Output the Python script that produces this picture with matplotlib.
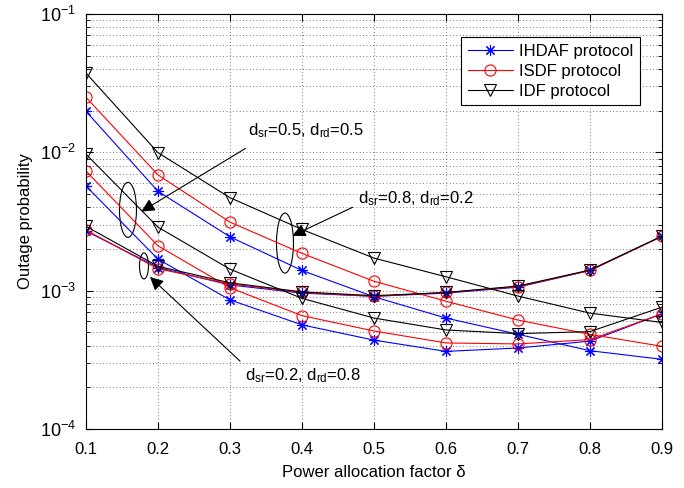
import numpy as np
import matplotlib
matplotlib.use("Agg")
import matplotlib.pyplot as plt
from matplotlib.patches import Ellipse

plt.rcParams['font.family'] = ['Liberation Sans', 'DejaVu Sans']
plt.rcParams['mathtext.fontset'] = 'custom'
plt.rcParams['mathtext.rm'] = 'Liberation Sans'
plt.rcParams['mathtext.it'] = 'Liberation Sans'

delta = [0.1, 0.2, 0.3, 0.4, 0.5, 0.6, 0.7, 0.8, 0.9]

# d_sr=0.8, d_rd=0.2
ihdaf_a = [0.0198, 0.00523, 0.00245, 0.00140, 0.000903, 0.000634, 0.000484, 0.000368, 0.000319]
isdf_a = [0.0250, 0.00687, 0.00313, 0.00186, 0.00117, 0.000839, 0.000613, 0.000483, 0.000396]
idf_a = [0.0374, 0.00995, 0.00470, 0.00277, 0.00172, 0.00126, 0.000914, 0.000688, 0.000589]

# d_sr=0.5, d_rd=0.5
ihdaf_b = [0.00571, 0.00169, 0.000858, 0.000566, 0.000439, 0.000364, 0.000385, 0.000432, 0.00068]
isdf_b = [0.00733, 0.00211, 0.00105, 0.00066, 0.000511, 0.000419, 0.000412, 0.000443, 0.00068]
idf_b = [0.0097, 0.00288, 0.00143, 0.00088, 0.000634, 0.00052, 0.000489, 0.000506, 0.00076]

# d_sr=0.2, d_rd=0.8
ihdaf_c = [0.00270, 0.00147, 0.00110, 0.00096, 0.00091, 0.00096, 0.00106, 0.00140, 0.00247]
isdf_c = [0.00274, 0.00144, 0.00112, 0.00097, 0.00091, 0.00097, 0.00107, 0.00140, 0.00247]
idf_c = [0.00292, 0.00150, 0.00114, 0.00098, 0.00092, 0.00097, 0.00108, 0.00141, 0.00248]

fig = plt.figure(figsize=(6.84, 4.88), dpi=100)
ax = fig.add_axes([0.1257, 0.1209, 0.8421, 0.8504])

lw = 0.8
star = dict(color='b', lw=lw, marker=(8, 2, 0), ms=8, mew=0.8)
circ = dict(color='r', lw=lw, marker='o', ms=8, mfc='none', mew=0.8)
tri = dict(color='k', lw=lw, marker='v', ms=8, mfc='none', mew=0.8)

for ys in [ihdaf_a, ihdaf_b, ihdaf_c]:
    ax.plot(delta, ys, **star)
for ys in [isdf_a, isdf_b, isdf_c]:
    ax.plot(delta, ys, **circ)
for ys in [idf_a, idf_b, idf_c]:
    ax.plot(delta, ys, **tri)

ax.set_yscale('log')
ax.set_xlim(0.1, 0.9)
ax.set_ylim(1e-4, 1e-1)
ax.set_xticks(delta)
ax.set_xticklabels([str(d) for d in delta])
ax.set_yticks([1e-4, 1e-3, 1e-2, 1e-1])
ax.set_yticklabels([r'$10^{-4}$', r'$10^{-3}$', r'$10^{-2}$', r'$10^{-1}$'])
ax.tick_params(which='both', direction='in', top=True, right=True, labelsize=12)
ax.tick_params(axis='x', which='major', length=5, pad=9)
ax.tick_params(axis='y', which='major', length=5, pad=7, labelsize=13)
ax.tick_params(which='minor', length=3)
ax.grid(True, which='major', ls=(0, (1, 3)), color='k', lw=0.6, alpha=0.7)
ax.yaxis.grid(True, which='minor', ls=(0, (1, 3)), color='k', lw=0.6, alpha=0.7)
for s in ax.spines.values():
    s.set_linewidth(0.8)

ax.set_xlabel('Power allocation factor δ', fontsize=12, labelpad=6)
ax.set_ylabel('Outage probability', fontsize=12, labelpad=5)

# legend
h1, = ax.plot([], [], **star)
h2, = ax.plot([], [], **circ)
h3, = ax.plot([], [], **tri)
leg = ax.legend([h1, h2, h3], ['IHDAF protocol', 'ISDF protocol', 'IDF protocol'],
                loc='upper right', bbox_to_anchor=(0.962, 0.9446), borderaxespad=0,
                fontsize=12, fancybox=False, framealpha=1, edgecolor='k',
                handlelength=2.7, handletextpad=0.4, labelspacing=0.3,
                borderpad=0.4)
leg.get_frame().set_linewidth(0.8)

# annotations
arrow = dict(arrowstyle='-|>', color='k', lw=0.8, mutation_scale=20)
tr = ax.transAxes
ax.text(0.281, 0.718, r'd$_{\mathrm{sr}}$=0.5, d$_{\mathrm{rd}}$=0.5', transform=tr,
        ha='left', va='center', fontsize=12)
ax.annotate('', xy=(0.092, 0.5205), xytext=(0.281, 0.6795), xycoords=tr, textcoords=tr,
            arrowprops=arrow)
ax.add_patch(Ellipse((0.0729, 0.528), 0.0295, 0.1325, transform=tr, fill=False, ec='k', lw=0.8))

ax.text(0.473, 0.554, r'd$_{\mathrm{sr}}$=0.8, d$_{\mathrm{rd}}$=0.2', transform=tr,
        ha='left', va='center', fontsize=12)
ax.annotate('', xy=(0.354, 0.4627), xytext=(0.467, 0.537), xycoords=tr, textcoords=tr,
            arrowprops=arrow)
ax.add_patch(Ellipse((0.3455, 0.448), 0.0295, 0.1446, transform=tr, fill=False, ec='k', lw=0.8))

ax.text(0.276, 0.128, r'd$_{\mathrm{sr}}$=0.2, d$_{\mathrm{rd}}$=0.8', transform=tr,
        ha='left', va='center', fontsize=12)
ax.annotate('', xy=(0.1076, 0.371), xytext=(0.271, 0.159), xycoords=tr, textcoords=tr,
            arrowprops=arrow)
ax.add_patch(Ellipse((0.1007, 0.393), 0.0156, 0.0627, transform=tr, fill=False, ec='k', lw=0.8))

fig.savefig('out.png', dpi=100)
